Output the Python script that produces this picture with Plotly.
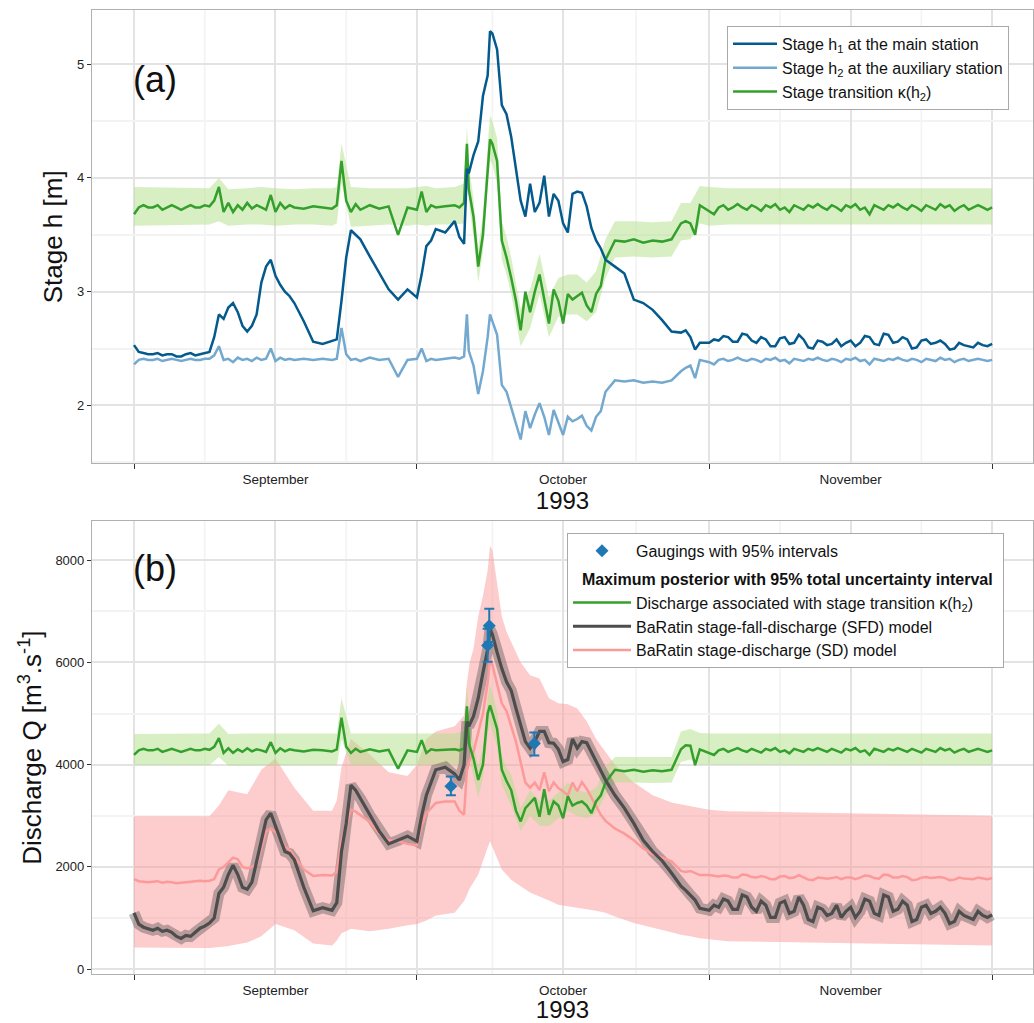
import pandas as pd
import plotly.graph_objects as go

START = pd.Timestamp("1993-09-01")

# ---------------- data (days since 1 Sep 1993) ----------------
day = [0, 0.5, 1, 1.5, 2, 2.5, 3, 3.5, 4, 4.5, 5, 5.5, 6, 6.5, 7, 7.5, 8,
       8.5, 9, 9.5, 10, 10.5, 11, 11.5, 12, 12.5, 13, 13.5, 14, 14.5, 15, 15.5, 16, 16.5, 17,
       18, 19, 20, 21,
       21.5, 22, 22.5, 23, 23.5, 24,
       25, 26, 27, 28, 29, 30,
       30.5, 31, 31.5, 32, 33, 34,
       34.5, 35, 35.3, 35.5, 36, 36.5, 37, 37.5, 37.75,
       38, 38.5, 39, 39.5, 40, 40.5, 41, 41.5,
       42, 42.5, 43, 43.5, 44, 44.5, 45, 45.5,
       46, 46.5, 47, 47.5, 48, 48.5, 49, 49.5, 50,
       51, 52, 53, 54, 55, 56, 57, 58,
       58.5, 59, 59.5, 60,
       61, 61.5, 62, 62.5, 63, 63.5, 64, 64.5, 65, 65.5,
       66, 66.5, 67, 67.5, 68, 68.5, 69, 69.5, 70, 70.5,
       71, 71.5, 72, 72.5, 73, 73.5, 74, 74.5, 75, 75.5,
       76, 76.5, 77, 77.5, 78, 78.5, 79, 79.5, 80, 80.5,
       81, 81.5, 82, 82.5, 83, 83.5, 84, 84.5, 85, 85.5,
       86, 86.5, 87, 87.5, 88, 88.5, 89, 89.5, 90, 90.5,
       91]

stage_h1 = [2.53, 2.47, 2.46, 2.45, 2.45, 2.46, 2.44, 2.45, 2.45, 2.43, 2.43, 2.45, 2.46, 2.44, 2.45, 2.46, 2.47,
            2.60, 2.80, 2.76, 2.86, 2.90, 2.82, 2.70, 2.65, 2.70, 2.80, 3.08, 3.22, 3.28, 3.14, 3.06, 3.00, 2.96, 2.90,
            2.74, 2.56, 2.54, 2.57,
            2.58, 2.92, 3.30, 3.54, 3.50, 3.46,
            3.31, 3.17, 3.02, 2.93, 3.02, 2.95,
            3.15, 3.40, 3.45, 3.55, 3.52, 3.62,
            3.48, 3.42, 4.08, 4.04, 4.20, 4.32, 4.72, 4.90, 5.29,
            5.27, 5.13, 4.64, 4.56, 4.36, 4.10, 3.80, 3.66,
            3.95, 3.70, 3.78, 4.02, 3.66, 3.86, 3.80, 3.60,
            3.52, 3.86, 3.88, 3.87, 3.75, 3.56, 3.45, 3.38, 3.28,
            3.22, 3.16, 2.93, 2.90, 2.84, 2.75, 2.65, 2.64,
            2.66, 2.60, 2.49, 2.55,
            2.55, 2.58, 2.57, 2.61, 2.60, 2.56, 2.56, 2.63, 2.62, 2.57,
            2.55, 2.60, 2.58, 2.52, 2.52, 2.59, 2.60, 2.54, 2.55, 2.62,
            2.58, 2.51, 2.50, 2.57, 2.56, 2.53, 2.54, 2.58, 2.52, 2.55,
            2.57, 2.52, 2.55, 2.61, 2.60, 2.54, 2.53, 2.63, 2.62, 2.55,
            2.56, 2.60, 2.58, 2.50, 2.51, 2.57, 2.58, 2.54, 2.55, 2.57,
            2.54, 2.49, 2.50, 2.55, 2.53, 2.52, 2.51, 2.55, 2.53, 2.52,
            2.54]

stage_h2 = [2.36, 2.40, 2.41, 2.40, 2.40, 2.41, 2.39, 2.40, 2.41, 2.40, 2.39, 2.40, 2.41, 2.40, 2.40, 2.41, 2.41,
            2.44, 2.52, 2.40, 2.41, 2.38, 2.42, 2.40, 2.41, 2.39, 2.42, 2.40, 2.41, 2.50, 2.39, 2.42, 2.40, 2.41, 2.40,
            2.41, 2.40, 2.41, 2.40,
            2.41, 2.68, 2.45, 2.40, 2.41, 2.39,
            2.42, 2.40, 2.41, 2.25, 2.40, 2.41,
            2.50, 2.39, 2.41, 2.40, 2.41, 2.42,
            2.41, 2.43, 2.80, 2.48, 2.35, 2.10, 2.30, 2.60, 2.80,
            2.74, 2.62, 2.18, 2.12, 1.98, 1.84, 1.70, 1.95,
            1.80, 1.92, 2.02, 1.90, 1.74, 1.96, 1.85, 1.74,
            1.90, 1.86, 1.88, 1.91, 1.82, 1.78, 1.90, 1.95, 2.12,
            2.22, 2.21, 2.22, 2.20, 2.21, 2.20, 2.22, 2.30,
            2.33, 2.35, 2.24, 2.40,
            2.38, 2.36, 2.40, 2.41, 2.39, 2.40, 2.42, 2.40, 2.39, 2.41,
            2.40, 2.38, 2.41, 2.40, 2.42, 2.39, 2.40, 2.37, 2.41, 2.40,
            2.39, 2.41, 2.40, 2.42, 2.40, 2.39, 2.41, 2.40, 2.38, 2.41,
            2.40, 2.42, 2.39, 2.40, 2.36, 2.41, 2.40, 2.39, 2.41, 2.40,
            2.42, 2.40, 2.39, 2.41, 2.40, 2.38, 2.41, 2.40, 2.39, 2.42,
            2.40, 2.41, 2.38, 2.40, 2.41, 2.39, 2.40, 2.41, 2.40, 2.39,
            2.40]

stage_kappa = [3.68, 3.74, 3.76, 3.74, 3.74, 3.76, 3.72, 3.74, 3.76, 3.74, 3.72, 3.74, 3.76, 3.74, 3.74, 3.76, 3.75,
               3.80, 3.92, 3.70, 3.78, 3.70, 3.76, 3.72, 3.78, 3.73, 3.76, 3.74, 3.72, 3.85, 3.70, 3.78, 3.73, 3.76, 3.74,
               3.73, 3.75, 3.74, 3.73,
               3.76, 4.15, 3.80, 3.70, 3.77, 3.72,
               3.76, 3.73, 3.75, 3.50, 3.74, 3.72,
               3.88, 3.70, 3.76, 3.74, 3.75, 3.76,
               3.74, 3.78, 4.30, 3.90, 3.66, 3.22, 3.50, 4.10, 4.34,
               4.30, 4.15, 3.45, 3.30, 3.12, 2.92, 2.66, 3.00,
               2.82, 3.00, 3.15, 2.95, 2.72, 3.02, 2.92, 2.72,
               2.98, 2.93, 2.96, 2.99, 2.88, 2.82, 2.98, 3.05, 3.28,
               3.45, 3.44, 3.46, 3.43, 3.45, 3.44, 3.46, 3.60,
               3.62, 3.60, 3.50, 3.76,
               3.71, 3.68, 3.74, 3.76, 3.72, 3.74, 3.77, 3.74, 3.72, 3.76,
               3.74, 3.71, 3.76, 3.74, 3.77, 3.72, 3.74, 3.70, 3.76, 3.74,
               3.72, 3.76, 3.74, 3.77, 3.74, 3.72, 3.76, 3.74, 3.71, 3.76,
               3.74, 3.77, 3.72, 3.74, 3.68, 3.76, 3.74, 3.72, 3.76, 3.74,
               3.77, 3.74, 3.72, 3.76, 3.74, 3.71, 3.76, 3.74, 3.72, 3.77,
               3.74, 3.76, 3.71, 3.74, 3.76, 3.72, 3.74, 3.76, 3.74, 3.72,
               3.74]

q_kappa = [4190, 4280, 4310, 4280, 4280, 4310, 4250, 4280, 4310, 4280, 4250, 4280, 4310, 4280, 4280, 4310, 4290,
           4350, 4520, 4230, 4320, 4230, 4300, 4250, 4320, 4260, 4300, 4280, 4250, 4440, 4230, 4320, 4260, 4300, 4280,
           4260, 4290, 4280, 4260,
           4300, 4920, 4350, 4230, 4310, 4250,
           4300, 4260, 4290, 3920, 4280, 4250,
           4480, 4230, 4300, 4280, 4290, 4300,
           4280, 4320, 5140, 4420, 4120, 3700, 4000, 5000, 5160,
           5000, 4700, 3900, 3680, 3500, 3100, 2890, 3150,
           3250, 3350, 2980, 3520, 3020, 3280, 3200, 2950,
           3380, 3200, 3250, 3280, 3200, 3050, 3280, 3400, 3650,
           3900, 3870, 3900, 3860, 3890, 3870, 3900, 4300,
           4380, 4370, 3990, 4300,
           4235, 4190, 4280, 4310, 4250, 4280, 4325, 4280, 4250, 4310,
           4280, 4235, 4310, 4280, 4325, 4250, 4280, 4220, 4310, 4280,
           4250, 4310, 4280, 4325, 4280, 4250, 4310, 4280, 4235, 4310,
           4280, 4325, 4250, 4280, 4190, 4310, 4280, 4250, 4310, 4280,
           4325, 4280, 4250, 4310, 4280, 4235, 4310, 4280, 4250, 4325,
           4280, 4310, 4235, 4280, 4310, 4250, 4280, 4310, 4280, 4250,
           4280]

q_sfd = [1100, 880, 820, 790, 760, 800, 740, 760, 720, 640, 600, 660, 640, 720, 800, 840, 900,
         1000, 1480, 1600, 1850, 2030, 1850, 1600, 1560, 1700, 2100, 2550, 2920, 3050, 2800, 2520, 2300, 2260, 2140,
         1600, 1140, 1200, 1150,
         1300, 2300, 2850, 3600, 3500, 3340,
         3010, 2700, 2450, 2520, 2600, 2500,
         3000, 3400, 3650, 3900, 3950, 3820,
         3700, 4000, 4840, 4750, 4950, 5300, 5800, 6250, 6650,
         6550, 6200, 5880, 5620, 5450, 5100, 4750, 4450,
         4320, 4450, 4650, 4650, 4430, 4420, 4300, 4060,
         4100, 4500, 4320, 4450, 4430, 4250, 4060, 3880, 3700,
         3400, 3150, 2850, 2520, 2300, 2120, 1880, 1620,
         1540, 1450, 1350, 1190,
         1150, 1250, 1210, 1370, 1330, 1170, 1170, 1450, 1410, 1210,
         1130, 1330, 1250, 1010, 1010, 1290, 1330, 1090, 1130, 1410,
         1250, 970, 930, 1210, 1170, 1050, 1090, 1250, 1010, 1130,
         1210, 1010, 1130, 1370, 1330, 1090, 1050, 1450, 1410, 1130,
         1170, 1330, 1250, 930, 970, 1210, 1250, 1090, 1130, 1210,
         1090, 890, 930, 1130, 1050, 1010, 970, 1130, 1050, 1010,
         1060]

q_sd = [1760, 1720, 1710, 1700, 1710, 1720, 1690, 1710, 1700, 1680, 1690, 1700, 1710, 1720, 1730, 1720, 1730,
        1760, 1950, 2000, 2100, 2180, 2150, 2000, 1970, 2000, 2050, 2400, 2700, 2750, 2680, 2560, 2400, 2330, 2200,
        1950, 1820, 1840, 1830,
        1900, 2500, 2800, 3120, 3080, 3010,
        2880, 2650, 2520, 2500, 2450, 2420,
        2800, 3050, 3150, 3250, 3280, 3280,
        3100, 3020, 3900, 4050, 4250, 4600, 5000, 5600, 6050,
        5950, 5550, 5200, 5050, 4750, 4450, 4050, 3650,
        3550, 3650, 3500, 3850, 3480, 3650, 3540, 3480,
        3400, 3650, 3480, 3660, 3530, 3350, 3200, 3020, 2900,
        2750, 2650, 2520, 2360, 2250, 2180, 2110, 1920,
        1900, 1920, 1880, 1840,
        1840, 1830, 1810, 1830, 1820, 1790, 1790, 1850, 1840, 1800,
        1790, 1820, 1800, 1760, 1760, 1810, 1820, 1780, 1790, 1840,
        1800, 1750, 1740, 1790, 1780, 1770, 1780, 1800, 1760, 1790,
        1790, 1760, 1790, 1830, 1820, 1780, 1770, 1850, 1840, 1790,
        1790, 1820, 1800, 1740, 1750, 1790, 1800, 1780, 1790, 1800,
        1780, 1740, 1750, 1790, 1770, 1770, 1760, 1790, 1770, 1760,
        1780]

# uncertainty intervals (coarser time grid)
band_day = [0, 8, 9, 10, 12, 13.5, 15, 17, 19, 21, 21.5, 22, 23, 25, 27, 29, 30, 31, 32, 34,
            35, 35.3, 35.6, 36, 36.5, 37, 37.5, 37.75, 38, 38.5, 39, 39.5, 40, 41, 42,
            43, 44, 45, 46, 47, 48, 49, 50, 51, 53, 55, 57, 58, 59, 60, 61, 63, 91]

kappa_lo = [3.58, 3.59, 3.62, 3.58, 3.59, 3.59, 3.58, 3.59, 3.59, 3.58,
            3.60, 3.95, 3.57, 3.58, 3.59, 3.58, 3.59, 3.58, 3.59, 3.59,
            3.60, 4.10, 3.72, 3.48, 3.08, 3.35, 3.92, 4.15, 4.12, 3.95,
            3.28, 3.15, 2.98, 2.52, 2.68, 2.98, 2.60, 2.78, 2.80, 2.80,
            2.74, 2.82, 3.12, 3.30, 3.31, 3.30, 3.31, 3.45, 3.46, 3.60,
            3.58, 3.59, 3.59]
kappa_hi = [3.92, 3.91, 4.00, 3.90, 3.91, 3.92, 3.91, 3.90, 3.91, 3.91,
            3.92, 4.30, 3.92, 3.91, 3.91, 3.91, 3.92, 3.93, 3.91, 3.92,
            3.95, 4.45, 4.05, 3.82, 3.38, 3.68, 4.28, 4.55, 4.50, 4.35,
            3.62, 3.48, 3.30, 2.85, 3.02, 3.33, 2.95, 3.12, 3.15, 3.15,
            3.08, 3.18, 3.46, 3.62, 3.62, 3.61, 3.62, 3.78, 3.78, 3.93,
            3.92, 3.91, 3.91]

qk_lo = [3990, 3990, 4150, 3980, 3990, 3990, 3990, 3990, 3990, 3990,
         3990, 4500, 3990, 3990, 3990, 3990, 3990, 3990, 3990, 3990,
         4000, 4700, 4100, 3800, 3350, 3750, 4600, 4800, 4650, 4350,
         3600, 3400, 3200, 2700, 3000, 2800, 2800, 2950, 3100, 3000,
         2950, 3050, 3400, 3650, 3650, 3640, 3650, 4050, 4100, 4000,
         3990, 3990, 3990]
qk_hi = [4600, 4610, 4800, 4600, 4610, 4610, 4610, 4610, 4610, 4610,
         4610, 5300, 4610, 4610, 4610, 4610, 4610, 4610, 4610, 4610,
         4650, 5550, 4800, 4450, 3950, 4350, 5300, 5550, 5400, 5050,
         4200, 3950, 3800, 3150, 3500, 3300, 3300, 3450, 3650, 3500,
         3450, 3550, 3950, 4150, 4150, 4140, 4150, 4650, 4700, 4620,
         4610, 4610, 4610]

sd_lo = [420, 410, 430, 450, 520, 640, 880, 760, 500, 460,
         560, 700, 790, 740, 790, 860, 880, 950, 1050, 1100,
         1330, 1450, 1580, 1700, 1850, 2100, 2380, 2500, 2400, 2170,
         1950, 1850, 1750, 1620, 1500, 1420, 1340, 1260, 1230, 1200,
         1170, 1140, 1100, 1030, 900, 810, 720, 670, 640, 605,
         580, 545, 460]
sd_hi = [2990, 2990, 3200, 3500, 3420, 3900, 4120, 3550, 3100, 3100,
         3300, 3950, 4500, 4200, 3850, 3780, 4000, 4500, 4650, 4750,
         4960, 5600, 6000, 6270, 6900, 7300, 7800, 8280, 8200, 7500,
         6900, 6600, 6400, 6000, 5750, 5685, 5300, 5200, 5180, 5100,
         4850, 4500, 4250, 4000, 3650, 3400, 3260, 3220, 3180, 3150,
         3120, 3090, 3000]

# gaugings
gauge_day = [33.6, 37.5, 37.67, 42.45]
gauge_q = [3575, 6330, 6720, 4415]
gauge_lo = [3400, 6015, 6400, 4180]
gauge_hi = [3770, 6660, 7050, 4630]

# axis ticks
month_bounds = ["1993-09-01", "1993-10-01", "1993-11-01", "1993-12-01"]
month_mid = ["1993-09-16", "1993-10-16 12:00", "1993-11-16"]
month_text = ["September", "October", "November"]
grid_minor = ["1993-09-08 12:00", "1993-09-23 12:00", "1993-10-09",
              "1993-10-24 06:00", "1993-11-08 12:00", "1993-11-23 12:00"]
x_range = ["1993-08-27 13:00", "1993-12-05 08:00"]
h_ticks = [2, 3, 4, 5]
h_minor = [1.5, 2.5, 3.5, 4.5]
q_ticks = [0, 2000, 4000, 6000, 8000]
q_minor = [1000, 3000, 5000, 7000]


def to_dates(days):
    return [START + pd.Timedelta(days=d) for d in days]


t = to_dates(day)
tb = to_dates(band_day)
tg = to_dates(gauge_day)

C_H1 = "#045a8d"
C_H2 = "#74a9cf"
C_K = "#33a02c"
C_KB = "rgba(178,223,138,0.5)"
C_SFD = "#4d4d4d"
C_SFDB = "rgba(77,77,77,0.38)"
C_SD = "#fb9a99"
C_SDB = "rgba(251,154,153,0.5)"
C_G = "#1f78b4"
FONT = "Liberation Sans, Arial, Helvetica, sans-serif"
LW = 2.5

fig = go.Figure()


def band(x, lo, hi, color, xa, ya):
    fig.add_trace(go.Scatter(
        x=list(x) + list(x)[::-1], y=list(hi) + list(lo)[::-1],
        fill="toself", fillcolor=color, line=dict(width=0),
        mode="lines", hoverinfo="skip", showlegend=False, xaxis=xa, yaxis=ya))


# ---- panel (a)
band(tb, kappa_lo, kappa_hi, C_KB, "x", "y")
fig.add_trace(go.Scatter(x=t, y=stage_kappa, mode="lines", line=dict(color=C_K, width=LW),
                         name="Stage transition \u03ba(h<sub>2</sub>)", legend="legend", legendrank=3,
                         xaxis="x", yaxis="y"))
fig.add_trace(go.Scatter(x=t, y=stage_h2, mode="lines", line=dict(color=C_H2, width=LW),
                         name="Stage h<sub>2</sub> at the auxiliary station", legend="legend", legendrank=2,
                         xaxis="x", yaxis="y"))
fig.add_trace(go.Scatter(x=t, y=stage_h1, mode="lines", line=dict(color=C_H1, width=LW),
                         name="Stage h<sub>1</sub> at the main station", legend="legend", legendrank=1,
                         xaxis="x", yaxis="y"))

# ---- panel (b)
band(tb, sd_lo, sd_hi, C_SDB, "x2", "y2")
band(tb, qk_lo, qk_hi, C_KB, "x2", "y2")
fig.add_trace(go.Scatter(x=t, y=q_sfd, mode="lines", line=dict(color=C_SFDB, width=11),
                         hoverinfo="skip", showlegend=False, xaxis="x2", yaxis="y2"))
fig.add_trace(go.Scatter(x=t, y=q_sd, mode="lines", line=dict(color=C_SD, width=LW),
                         name="BaRatin stage-discharge (SD) model", legend="legend2",
                         legendgroup="mp", legendrank=4, xaxis="x2", yaxis="y2"))
fig.add_trace(go.Scatter(x=t, y=q_kappa, mode="lines", line=dict(color=C_K, width=LW),
                         name="Discharge associated with stage transition \u03ba(h<sub>2</sub>)",
                         legend="legend2", legendgroup="mp", legendrank=2,
                         legendgrouptitle=dict(
                             text="&nbsp;&nbsp;<b>Maximum posterior with 95% total uncertainty interval</b>",
                             font=dict(size=16, color="#111", family=FONT)),
                         xaxis="x2", yaxis="y2"))
fig.add_trace(go.Scatter(x=t, y=q_sfd, mode="lines", line=dict(color=C_SFD, width=3.2),
                         name="BaRatin stage-fall-discharge (SFD) model", legend="legend2",
                         legendgroup="mp", legendrank=3, xaxis="x2", yaxis="y2"))
fig.add_trace(go.Scatter(
    x=tg, y=gauge_q, mode="markers",
    marker=dict(symbol="diamond", size=10, color=C_G),
    error_y=dict(type="data", symmetric=False,
                 array=[h - q for h, q in zip(gauge_hi, gauge_q)],
                 arrayminus=[q - l for q, l in zip(gauge_q, gauge_lo)],
                 color=C_G, thickness=2, width=5),
    name="Gaugings with 95% intervals", legend="legend2", legendgroup="obs", legendrank=1,
    xaxis="x2", yaxis="y2"))

GRID = "#e3e3e3"
MINOR = "#f3f3f3"
BORDER = "#b0b0b0"


def xaxis_cfg(anchor):
    return dict(
        type="date", range=x_range, domain=[92 / 1034, 1033 / 1034], anchor=anchor,
        tickmode="array", tickvals=month_mid, ticktext=month_text, ticks="",
        showgrid=True, gridcolor=GRID, gridwidth=1.6,
        minor=dict(tickmode="array", tickvals=month_bounds, ticks="outside", ticklen=5,
                   tickwidth=1, tickcolor="#333", showgrid=True, gridcolor=GRID, gridwidth=1.6),
        showline=True, mirror=True, linecolor=BORDER, linewidth=1.2, zeroline=False,
        tickfont=dict(size=13.5, color="#222", family=FONT),
        ticklabelstandoff=3,
        title=dict(text="1993", font=dict(size=24, color="#111", family=FONT), standoff=2),
    )


def yaxis_cfg(dom, rng, ticks, minor, title):
    return dict(
        domain=dom, range=rng, tickmode="array", tickvals=ticks, ticks="outside", ticklen=4,
        tickwidth=1, tickcolor="#333", showgrid=True, gridcolor=GRID, gridwidth=1.6,
        minor=dict(tickmode="array", tickvals=minor, showgrid=True, gridcolor=MINOR, gridwidth=1.6, ticks=""),
        showline=True, mirror=True, linecolor=BORDER, linewidth=1.2, zeroline=False,
        tickfont=dict(size=13, color="#222", family=FONT),
        title=dict(text=title, font=dict(size=26, color="#111", family=FONT), standoff=6),
    )


shapes = []
for xr, yr in (("x", "y domain"), ("x2", "y2 domain")):
    for g in grid_minor:
        shapes.append(dict(type="line", xref=xr, yref=yr, x0=g, x1=g, y0=0, y1=1,
                           line=dict(color=MINOR, width=1.6), layer="below"))

fig.update_layout(
    width=1034, height=1023,
    margin=dict(l=0, r=0, t=0, b=0),
    paper_bgcolor="white", plot_bgcolor="white",
    font=dict(family=FONT, color="#111"),
    xaxis=xaxis_cfg("y"),
    xaxis2=xaxis_cfg("y2"),
    yaxis=yaxis_cfg([1 - 464.3 / 1023, 1 - 10.3 / 1023], [1.49, 5.474], h_ticks, h_minor, "Stage h [m]"),
    yaxis2=yaxis_cfg([1 - 976.3 / 1023, 1 - 522 / 1023], [-104, 8768], q_ticks, q_minor,
                     "Discharge Q [m<sup>3</sup>.s<sup>-1</sup>]"),
    shapes=shapes,
    legend=dict(x=727 / 1034, y=1 - 26 / 1023, xanchor="left", yanchor="top",
                bgcolor="white", bordercolor="#a8a8a8", borderwidth=1,
                font=dict(size=16, color="#111", family=FONT), traceorder="normal",
                itemwidth=44),
    legend2=dict(x=567 / 1034, y=1 - 534 / 1023, xanchor="left", yanchor="top",
                 bgcolor="white", bordercolor="#a8a8a8", borderwidth=1,
                 font=dict(size=16, color="#111", family=FONT), traceorder="grouped",
                 tracegroupgap=4, itemwidth=58),
    annotations=[
        dict(text="(a)", x=131 / 1034, y=1 - 57 / 1023, xref="paper", yref="paper",
             showarrow=False, font=dict(size=36, color="#111", family=FONT)),
        dict(text="(b)", x=131 / 1034, y=1 - 570 / 1023, xref="paper", yref="paper",
             showarrow=False, font=dict(size=36, color="#111", family=FONT)),
    ],
)

fig.write_html("out.html", config={"displayModeBar": False},
               post_script="document.body.style.margin='0';document.body.style.overflow='hidden';")
